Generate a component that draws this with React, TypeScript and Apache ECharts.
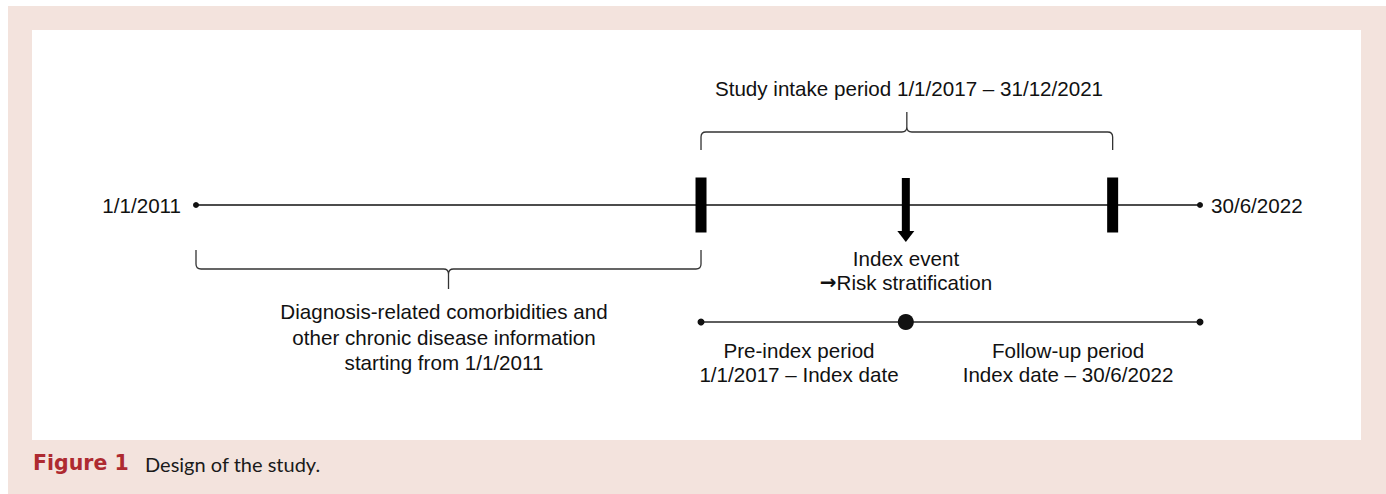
import React, { useEffect, useRef } from "react";
import * as echarts from "echarts";

// Schematic positions along the study timeline (not to scale)
const endpointLabels = ["1/1/2011", "30/6/2022"];
const endpointPos = [0, 100];
const intakeMarkPos = [50.3, 91.3]; // 1/1/2017, 31/12/2021
const indexPos = [70.7]; // index event
const periodPos = [50.3, 70.7, 100]; // pre-index start, index date, end of follow-up
const MAIN_LEVEL = 1;
const PERIOD_LEVEL = 0;
// [from, to, level, side(+1 above, -1 below)]
const bracketSpans = [
  [0, 50.3, MAIN_LEVEL, -1],
  [50.3, 91.3, MAIN_LEVEL, 1],
];

const intakeText = "Study intake period 1/1/2017 \u2013 31/12/2021";
const historyText = [
  "Diagnosis-related comorbidities and",
  "other chronic disease information",
  "starting from 1/1/2011",
];
const indexText = ["Index event", "Risk stratification"];
const preIndexText = ["Pre-index period", "1/1/2017 \u2013 Index date"];
const followUpText = ["Follow-up period", "Index date \u2013 30/6/2022"];
const captionLabel = "Figure 1";
const captionText = "Design of the study.";

const FONT = "'Liberation Sans', Arial, sans-serif";
const FS = 20.6;
const INK = "#111";

function txt(text: string, x: number, y: number, align = "center", lh = 25, rich?: any) {
  return {
    type: "text",
    x,
    y,
    style: {
      text,
      fill: INK,
      fontFamily: FONT,
      fontSize: FS,
      lineHeight: lh,
      align,
      verticalAlign: "middle",
      textAlign: align,
      textVerticalAlign: "middle",
      rich,
    },
  };
}

export default function App() {
  const ref = useRef<HTMLDivElement>(null);
  useEffect(() => {
    document.body.style.margin = "0";
    document.body.style.overflow = "hidden";
    const chart = echarts.init(ref.current!, null, { renderer: "svg" });
    chart.setOption({
      animation: false,
      backgroundColor: "#ffffff",
      grid: { left: 196, right: 186, top: 88, bottom: 55 },
      xAxis: { type: "value", min: 0, max: 100, show: false },
      yAxis: { type: "value", min: -1, max: 2, show: false },
      graphic: {
        elements: [
          { type: "rect", z: -10, shape: { x: 8, y: 6, width: 1378, height: 488 }, style: { fill: "#f3e3dd" } },
          { type: "rect", z: -9, shape: { x: 32, y: 30, width: 1329, height: 410 }, style: { fill: "#ffffff" } },
          txt(intakeText, 909, 88),
          txt(historyText.join("\n"), 444, 337, "center", 25.5),
          txt(indexText[0], 906, 258),
          txt("{arr|\u2192}" + indexText[1], 906, 282, "center", 24, {
            arr: { fontFamily: "'DejaVu Sans', sans-serif", fontSize: 20, fontWeight: "bold", fill: INK, color: INK },
          }),
          txt(preIndexText.join("\n"), 799, 362, "center", 24),
          txt(followUpText.join("\n"), 1068, 362, "center", 24),
          {
            type: "text",
            x: 33,
            y: 463,
            style: {
              text: captionLabel,
              fontFamily: "'DejaVu Sans', sans-serif",
              fontWeight: "bold",
              fontSize: 20.5,
              fill: "#ae2a30",
              verticalAlign: "middle",
              textVerticalAlign: "middle",
            },
          },
          {
            type: "text",
            x: 145,
            y: 464,
            style: {
              text: captionText,
              fontFamily: "Lato, sans-serif",
              fontSize: 20,
              fill: "#1a1a1a",
              verticalAlign: "middle",
              textVerticalAlign: "middle",
            },
          },
        ],
      },
      series: [
        {
          type: "line",
          name: "Main timeline",
          data: [
            { value: [endpointPos[0], MAIN_LEVEL], label: { position: "left", distance: 12 } },
            { value: [endpointPos[1], MAIN_LEVEL], label: { position: "right", distance: 8 } },
          ],
          lineStyle: { color: INK, width: 1.5 },
          itemStyle: { color: INK },
          symbol: "circle",
          symbolSize: 6,
          z: 3,
          label: {
            show: true,
            fontFamily: FONT,
            fontSize: FS,
            color: INK,
            formatter: (p: any) => endpointLabels[p.dataIndex],
          },
          emphasis: { disabled: true },
        },
        {
          type: "line",
          name: "Periods",
          data: periodPos.map((x) => [x, PERIOD_LEVEL]),
          lineStyle: { color: "#2a2a2a", width: 1.5 },
          itemStyle: { color: INK },
          symbol: "circle",
          symbolSize: (_v: any, p: any) => (p.dataIndex === 1 ? 16 : 7),
          z: 3,
          emphasis: { disabled: true },
        },
        {
          type: "custom",
          name: "Intake limits",
          data: intakeMarkPos.map((x) => [x, MAIN_LEVEL]),
          z: 4,
          renderItem: (_params: any, api: any) => {
            const p = api.coord([api.value(0), api.value(1)]);
            return {
              type: "rect",
              shape: { x: p[0] - 5.5, y: p[1] - 27.5, width: 11, height: 55 },
              style: { fill: "#000" },
            };
          },
        },
        {
          type: "custom",
          name: "Index event",
          data: indexPos.map((x) => [x, MAIN_LEVEL]),
          z: 4,
          renderItem: (_params: any, api: any) => {
            const p = api.coord([api.value(0), api.value(1)]);
            return {
              type: "group",
              children: [
                { type: "rect", shape: { x: p[0] - 4, y: p[1] - 27, width: 8, height: 54 }, style: { fill: "#000" } },
                {
                  type: "polygon",
                  shape: { points: [[p[0] - 8.5, p[1] + 26], [p[0] + 8.5, p[1] + 26], [p[0], p[1] + 37]] },
                  style: { fill: "#000" },
                },
              ],
            };
          },
        },
        {
          type: "custom",
          name: "Brackets",
          data: bracketSpans,
          z: 3,
          renderItem: (_params: any, api: any) => {
            const a = api.coord([api.value(0), api.value(2)]);
            const b = api.coord([api.value(1), api.value(2)]);
            const side = api.value(3);
            const y0 = a[1];
            const up = side > 0;
            const yE = up ? y0 - 55 : y0 + 45;
            const yH = up ? y0 - 73 : y0 + 64;
            const yT = up ? y0 - 93 : y0 + 84;
            const d = up ? -1 : 1;
            const r = 5;
            const xa = a[0];
            const xb = b[0];
            const xm = (xa + xb) / 2;
            const path =
              `M${xa} ${yE} L${xa} ${yH - d * r} Q${xa} ${yH} ${xa + r} ${yH} ` +
              `L${xm - r} ${yH} Q${xm} ${yH} ${xm} ${yH + d * r} L${xm} ${yT} ` +
              `M${xm} ${yH + d * r} Q${xm} ${yH} ${xm + r} ${yH} ` +
              `L${xb - r} ${yH} Q${xb} ${yH} ${xb} ${yH - d * r} L${xb} ${yE}`;
            return {
              type: "path",
              shape: { pathData: path },
              style: { fill: "none", stroke: "#333", lineWidth: 1.3 },
            };
          },
        },
      ],
    });
    return () => chart.dispose();
  }, []);
  return <div ref={ref} style={{ width: 1386, height: 494 }} />;
}
